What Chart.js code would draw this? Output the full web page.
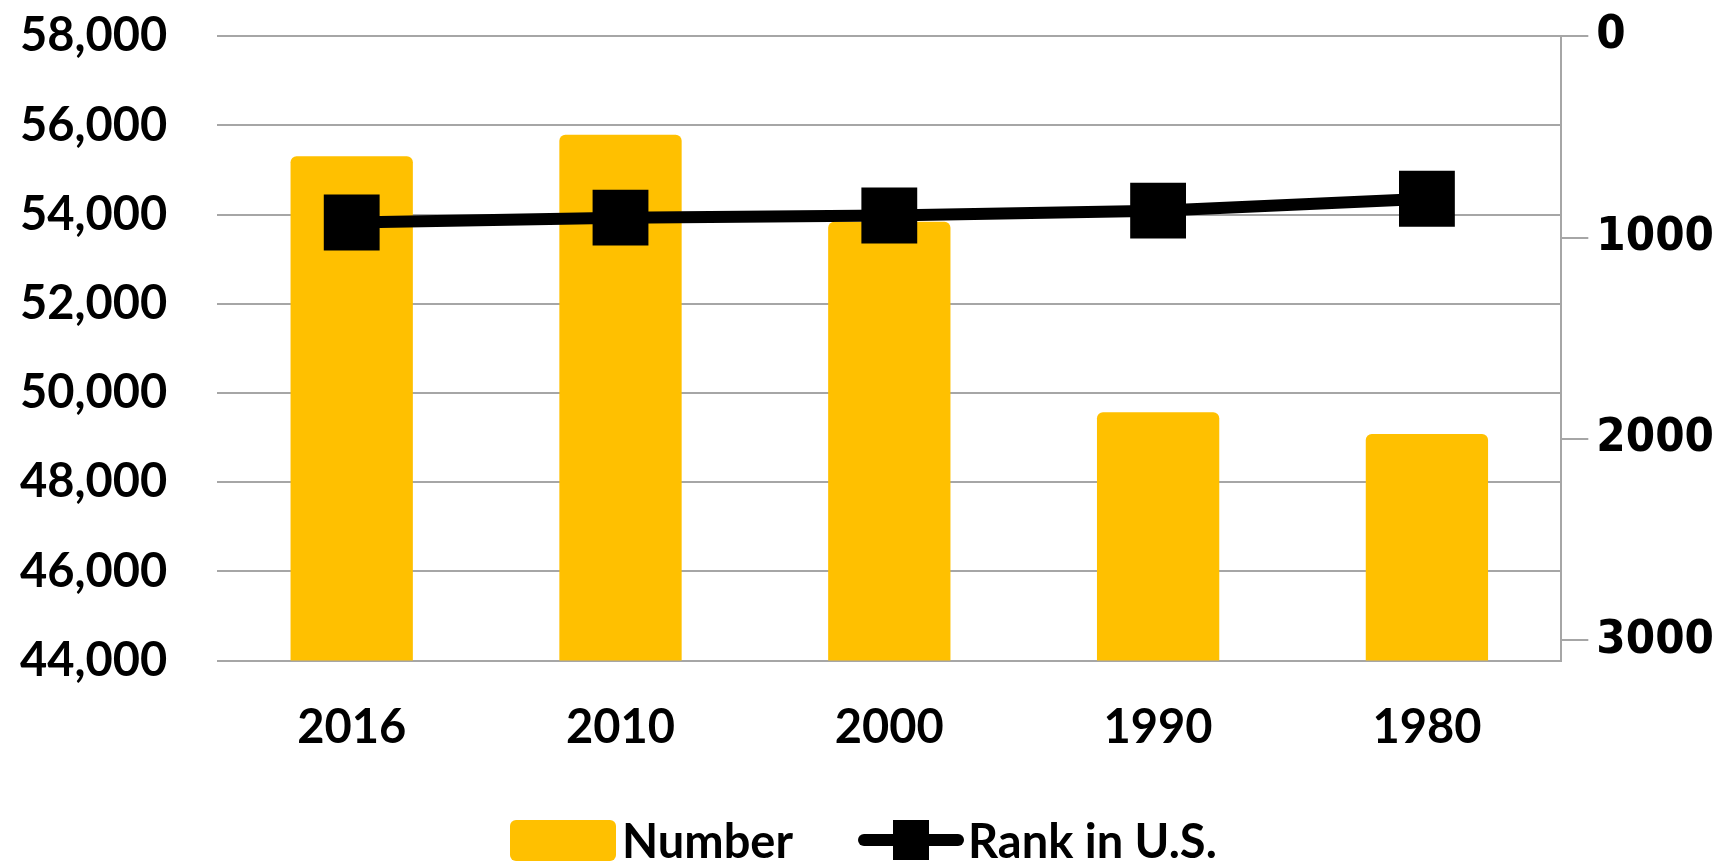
<!DOCTYPE html>
<html>
<head>
<meta charset="utf-8">
<script src="https://cdn.jsdelivr.net/npm/chart.js@4/dist/chart.umd.min.js"></script>
<style>
  html, body { margin: 0; padding: 0; background: #fff; }
  #wrap { position: relative; width: 1726px; height: 862px; }
  #chart { position: absolute; left: 0; top: 0; }
  .legend { position: absolute; top: 818px; left: 0; width: 1726px; height: 44px;
            font: bold 47px Lato, sans-serif; color: #000; }
  .leg-item { position: absolute; top: 0; height: 44px; display: flex; align-items: center; }
  .swatch-bar { width: 106px; height: 41px; background: #FFC000; border-radius: 6px; margin-right: 6px; }
  .swatch-line { position: relative; width: 106px; height: 44px; margin-right: 4px; }
  .swatch-line::before { content: ''; position: absolute; left: 0; right: 0; top: 16px; height: 12px;
                         background: #000; border-radius: 6px; }
  .swatch-line::after { content: ''; position: absolute; left: 35px; width: 36px; top: 2px; height: 40px; background: #000; }
</style>
</head>
<body>
<div id="wrap">
  <canvas id="chart" width="1726" height="862"></canvas>
  <div class="legend" id="legend"></div>
</div>
<script>
/* ── Data ───────────────────────────────────────────── */
const years       = ['2016', '2010', '2000', '1990', '1980'];
const numberVals  = [55310, 55790, 53840, 49570, 49080];
const rankVals    = [925, 901, 890, 866, 807];
const leftTicks   = [44000, 46000, 48000, 50000, 52000, 54000, 56000, 58000];
const rightTicks  = [0, 1000, 2000, 3000];
const legendNames = ['Number', 'Rank in U.S.'];

const GOLD = '#FFC000';
const GRID = '#a6a6a6';

// HTML legend (Excel style: filled box for bars, line with marker for rank)
document.getElementById('legend').innerHTML = `
  <div class="leg-item" style="left:510px"><span class="swatch-bar"></span><span>${legendNames[0]}</span></div>
  <div class="leg-item" style="left:858px"><span class="swatch-line"></span><span>${legendNames[1]}</span></div>`;

new Chart(document.getElementById('chart'), {
  data: {
    labels: years,
    datasets: [
      {
        type: 'line',
        label: legendNames[1],
        data: rankVals,
        yAxisID: 'yRank',
        borderColor: '#000',
        backgroundColor: '#000',
        borderWidth: 12,
        pointStyle: 'rect',
        pointRadius: 31,
        pointHoverRadius: 31,
        order: 0
      },
      {
        type: 'bar',
        label: legendNames[0],
        data: numberVals,
        yAxisID: 'y',
        backgroundColor: GOLD,
        borderRadius: { topLeft: 6, topRight: 6 },
        borderSkipped: 'bottom',
        barPercentage: 0.455,
        categoryPercentage: 1,
        order: 1
      }
    ]
  },
  options: {
    responsive: false,
    animation: false,
    layout: { autoPadding: false, padding: { top: 0, left: 20, right: 4, bottom: 75 } },
    plugins: {
      tooltip: { enabled: false },
      legend: { display: false }
    },
    scales: {
      x: {
        grid: { display: false },
        border: { display: false },
        ticks: { color: '#000', padding: 31, font: { family: 'Lato', size: 47, weight: 'bold' } }
      },
      y: {
        position: 'left',
        min: leftTicks[0],
        max: leftTicks[leftTicks.length - 1],
        afterBuildTicks: s => { s.ticks = leftTicks.map(v => ({ value: v })); },
        grid: { color: GRID, lineWidth: 2, drawTicks: true, tickLength: 50, tickColor: 'rgba(0,0,0,0)' },
        border: { display: false },
        ticks: {
          color: '#000',
          padding: 0,
          font: { family: 'Lato', size: 47, weight: 'bold' },
          callback: v => v.toLocaleString('en-US')
        }
      },
      yRank: {
        position: 'right',
        reverse: true,
        min: 0,
        max: 3100,
        afterBuildTicks: s => { s.ticks = rightTicks.map(v => ({ value: v })); },
        grid: { drawOnChartArea: false, color: GRID, lineWidth: 2, tickLength: 27 },
        border: { display: true, color: GRID, width: 2 },
        ticks: {
          color: '#000',
          padding: 8,
          font: { family: 'DejaVu Sans Condensed', size: 47, weight: 'bold' },
          callback: v => String(v)
        }
      }
    }
  }
});
</script>
</body>
</html>
